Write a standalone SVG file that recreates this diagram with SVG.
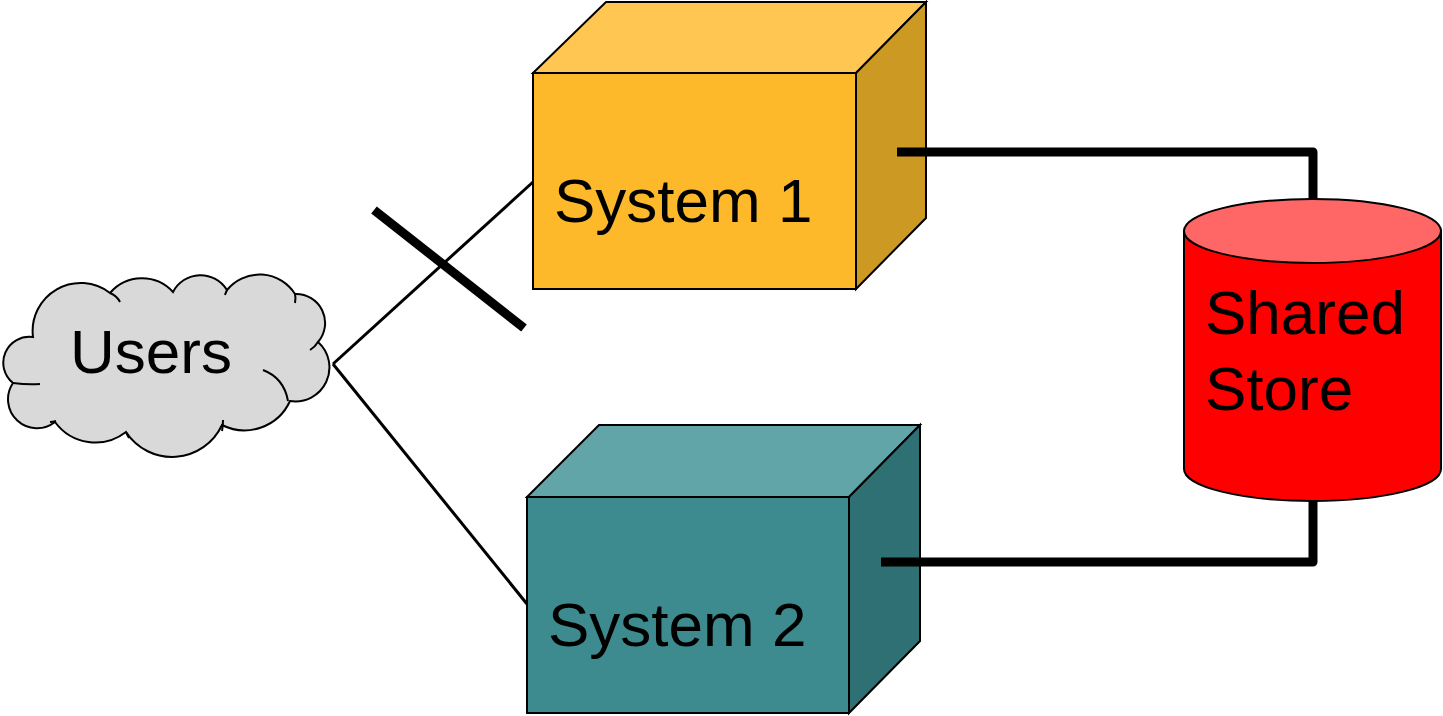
<svg xmlns="http://www.w3.org/2000/svg" width="1443" height="716" viewBox="0 0 1443 716">
  <style>
    .label { font-family: "Liberation Sans", Arial, sans-serif; font-size: 62px; fill: #000; }
    .edge { stroke: #000; stroke-width: 2; stroke-linejoin: miter; }
    .thin { stroke: #000; stroke-width: 3; fill: none; }
    .thick { stroke: #000; stroke-width: 9; fill: none; stroke-linejoin: round; }
    .inner { stroke: #000; stroke-width: 2; fill: none; }
  </style>
  <rect width="1443" height="716" fill="#fff"/>

  <g id="users">
    <path d="M33,337 A48,48 0 0 1 110,293 A42,42 0 0 1 173,292 A31,31 0 0 1 227,290 A42,42 0 0 1 295,294 A29,29 0 0 1 318,342 A34,34 0 0 1 290,401 A50,50 0 0 1 222,425 A55,55 0 0 1 126,432 A50,50 0 0 1 55,422 A29,29 0 0 1 13,383 A26,26 0 0 1 33,337 Z" fill="#D9D9D9" stroke="#000" stroke-width="2"/>
    <path class="inner" d="M110,293 Q117,296 120,302"/>
    <path class="inner" d="M227,290 Q226,292 225,295"/>
    <path class="inner" d="M295,294 Q296,298 295,303"/>
    <path class="inner" d="M318,342 Q315,347 310,350"/>
    <path class="inner" d="M263,370 Q284,378 288,401"/>
    <path class="inner" d="M223,420 Q223,426 222,431"/>
    <path class="inner" d="M126,432 Q127,435 129,438"/>
    <path class="inner" d="M50,422 Q53,422 56,421"/>
    <path class="inner" d="M13,383 Q28,385 40,384"/>
    <text class="label" x="70" y="373">Users</text>
  </g>

  <g id="system1">
    <polygon class="edge" points="533,73 606,2 926,2 856,73" fill="#FFC751"/>
    <polygon class="edge" points="856,73 926,2 926,218 856,289" fill="#CC9922"/>
    <rect class="edge" x="533" y="73" width="323" height="216" fill="#FDB92A"/>
    <text class="label" x="554" y="222">System 1</text>
  </g>

  <g id="system2">
    <polygon class="edge" points="527,497 599,425 920,425 849,497" fill="#62A5A9"/>
    <polygon class="edge" points="849,497 920,425 920,641 849,713" fill="#2E7073"/>
    <rect class="edge" x="527" y="497" width="322" height="216" fill="#3D8A8F"/>
    <text class="label" x="548" y="646">System 2</text>
  </g>

  <g id="shared-store">
    <path class="edge" d="M1184,231 L1184,469 A128.5,32 0 0 0 1441,469 L1441,231 Z" fill="#FF0000"/>
    <ellipse class="edge" cx="1312.5" cy="231" rx="128.5" ry="32" fill="#FF6666"/>
    <text class="label" x="1205" y="334">Shared</text>
    <text class="label" x="1205" y="410">Store</text>
  </g>

  <!-- links drawn last so the thick store links sit over the box side faces -->
  <g id="connectors">
    <line class="thin" x1="333" y1="364" x2="533" y2="182"/>
    <line class="thin" x1="333" y1="364" x2="527" y2="604"/>
    <line class="thick" x1="374" y1="210" x2="524" y2="328" stroke-linecap="butt"/>
    <polyline class="thick" points="897,152 1313,152 1313,199"/>
    <polyline class="thick" points="1313,501 1313,562 881,562"/>
  </g>
</svg>
